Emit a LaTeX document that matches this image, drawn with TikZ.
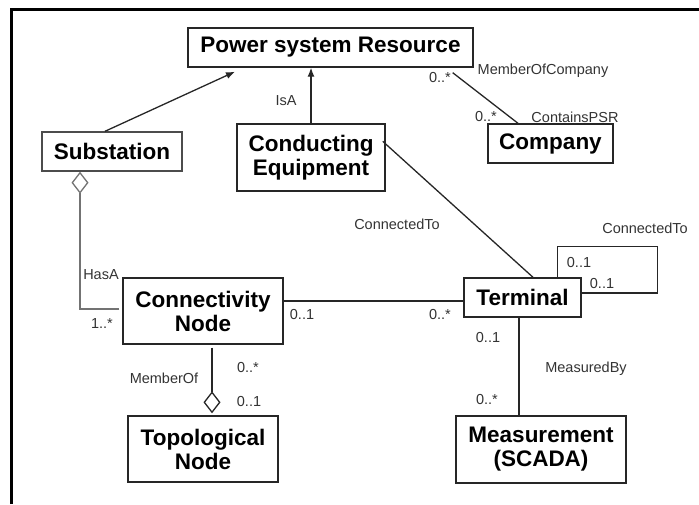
\documentclass[tikz,border=0pt]{standalone}
\usepackage{fontspec}
\setmainfont{Liberation Sans}
\usetikzlibrary{arrows.meta}

\tikzset{
    cls/.style={draw=black!85, line width=1.4pt, inner sep=0pt, align=center,
        font=\fontsize{22.5}{24}\selectfont\bfseries},
    lbl/.style={inner sep=0pt, text=black!80, font=\fontsize{14.5}{16}\selectfont},
    assoc/.style={draw=black!85, line width=1.3pt},
    isa/.style={assoc, -{Latex[length=9pt,width=7pt]}},
    agg/.style={assoc, -{Diamond[open,length=22pt,width=17pt,line width=1.3pt]}}
}

\begin{document}
\begin{tikzpicture}[x=1pt, y=-1pt]
        \useasboundingbox (0, 0) rectangle (699, 504);

        % frame
        \draw[line width=3pt] (11.5, 504) -- (11.5, 9) -- (699, 9);

        % classes
        \node[cls, minimum width=285pt, minimum height=39pt] (psr) at (330.5, 47.5) {Power system Resource};
        \node[cls, minimum width=140pt, minimum height=39pt, draw=black!70] (sub) at (112, 151.5) {Substation};
        \node[cls, minimum width=148pt, minimum height=67pt] (cond) at (311, 157.5) {Conducting\\Equipment};
        \node[cls, minimum width=125pt, minimum height=39pt] (comp) at (550.5, 143.5) {Company};
        \node[cls, minimum width=160pt, minimum height=66pt] (conn) at (203, 311) {Connectivity\\Node};
        \node[cls, minimum width=150pt, minimum height=66pt] (topo) at (203, 449) {Topological\\Node};
        \node[cls, minimum width=117pt, minimum height=39pt] (term) at (522.5, 297.5) {Terminal};
        \node[cls, minimum width=170pt, minimum height=67pt] (meas) at (541, 449.5) {Measurement\\(SCADA)};

        % inheritance
        \draw[isa] ([xshift=-7pt]sub.north) -- ([xshift=-95.5pt, yshift=-4pt]psr.south);
        \draw[isa] (cond.north) -- (cond.north |- psr.south);

        % associations
        \draw[assoc] ([xshift=-21pt, yshift=-5pt]psr.south east) -- ([xshift=-32.5pt]comp.north);
        \draw[assoc] ([xshift=-3pt, yshift=-18pt]cond.north east) -- ([xshift=10.5pt]term.north);
        \draw[assoc] ([xshift=-24pt]term.north east) -- ++(0, -31)
            -| ([xshift=76pt, yshift=4.5pt]term.east) -- ([yshift=4.5pt]term.east);
        \draw[assoc] ([yshift=-3.5pt]term.west) -- ([yshift=-3.5pt]term.west -| conn.east);
        \draw[assoc] ([xshift=-3.5pt]term.south) -- ([xshift=-3.5pt]term.south |- meas.north);

        % aggregations
        \draw[agg] ([xshift=9pt, yshift=-3pt]conn.south) -- ([xshift=9pt, yshift=2pt]topo.north);
        \draw[agg, draw=black!55] ([xshift=-3pt, yshift=2pt]conn.west) -| ([xshift=-32pt]sub.south);

        % labels
        \node[lbl] (l-isa) at (286, 101) {IsA};
        \node[lbl] (l-psrm) at (440, 78) {0..*};
        \node[lbl] (l-memco) at (543, 71) {MemberOfCompany};
        \node[lbl] (l-compm) at (486, 117) {0..*};
        \node[lbl] (l-conpsr) at (575, 117) {ContainsPSR};
        \node[lbl] (l-conto) at (397, 224) {ConnectedTo};
        \node[lbl] (l-loop) at (645, 228) {ConnectedTo};
        \node[lbl] (l-loopa) at (579, 263) {0..1};
        \node[lbl] (l-loopb) at (602, 284) {0..1};
        \node[lbl] (l-connm) at (302, 315) {0..1};
        \node[lbl] (l-termm) at (440, 315) {0..*};
        \node[lbl] (l-measa) at (488, 338) {0..1};
        \node[lbl] (l-measby) at (586, 369) {MeasuredBy};
        \node[lbl] (l-measb) at (487, 400) {0..*};
        \node[lbl] (l-memof) at (164, 378) {MemberOf};
        \node[lbl] (l-topoa) at (248, 368) {0..*};
        \node[lbl] (l-topob) at (249, 402) {0..1};
        \node[lbl] (l-hasa) at (101, 275) {HasA};
        \node[lbl] (l-hasm) at (102, 324) {1..*};

\end{tikzpicture}
\end{document}
